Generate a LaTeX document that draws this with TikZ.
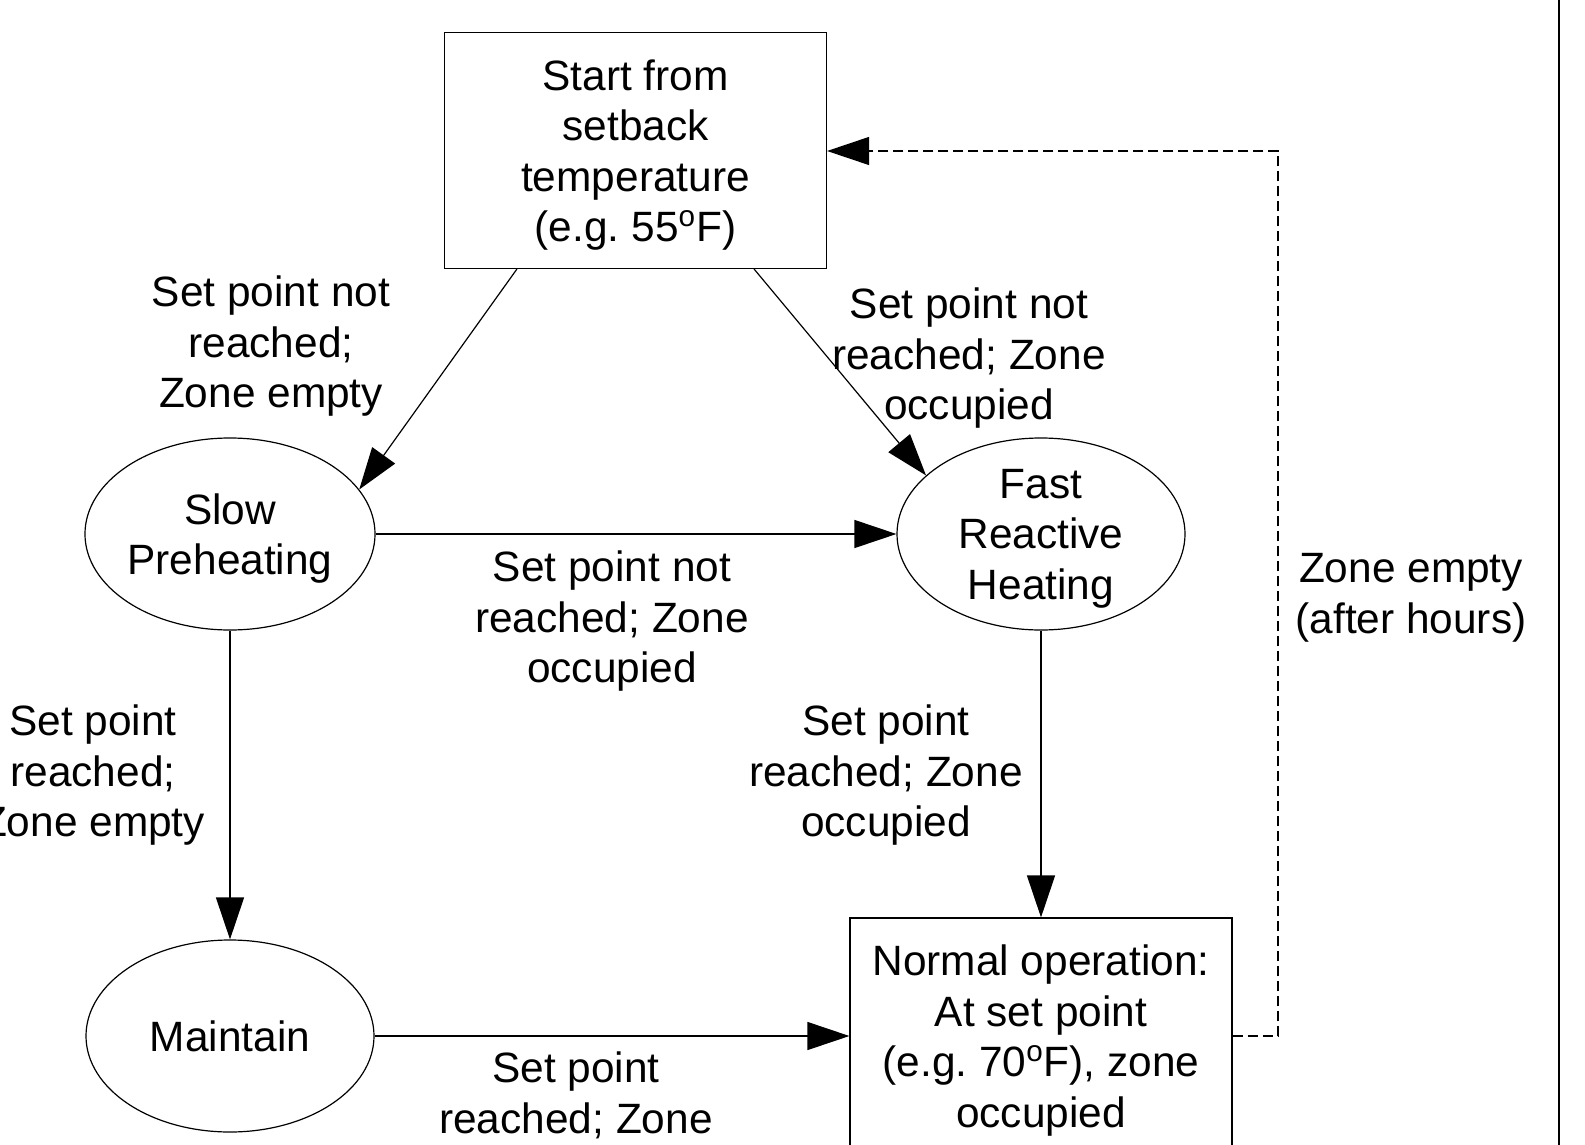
\documentclass[tikz,border=0pt]{standalone}
\usepackage{fontspec}
\setmainfont{Liberation Sans}
\usetikzlibrary{positioning,shapes.geometric,arrows.meta}

\begin{document}
\begin{tikzpicture}[x=0.5pt,y=-0.5pt,auto,on grid,>={Triangle[length=21pt,width=14pt]},line width=0.6pt,font=\fontsize{21.2pt}{25.25pt}\selectfont]
	\tikzstyle{state}=[ellipse,draw,minimum width=144pt,minimum height=96pt,align=center,inner sep=0pt,text depth=0pt]
	\tikzstyle{box}=[rectangle,draw,minimum width=191pt,minimum height=118pt,align=center,inner sep=0pt,text depth=0pt]
	\tikzstyle{cond}=[align=center,inner sep=0pt,text depth=0pt]
	\useasboundingbox (0,0) rectangle (1585,1145);
		\node[state] (slow) at (230,534) {Slow\\Preheating};
		\node[state] (fast) [right=405.5pt of slow] {Fast\\Reactive\\Heating};
		\node[state] (maintain) [below=251pt of slow] {Maintain};
		\node[box] (start) [above right=191.75pt and 202.75pt of slow] {Start from\\setback\\temperature\\(e.g.\ 55\textsuperscript{o}F)};
		\node[box] (normal) [below=251pt of fast] {Normal operation:\\At set point\\(e.g.\ 70\textsuperscript{o}F), zone\\occupied};
			\draw[->] (start.-135) -- (slow.19);
			\draw[->] (start.-45) -- (fast.153);
			\draw[->] (slow) -- (fast);
			\draw[->] (slow) -- (maintain);
			\draw[->] (fast) -- (normal);
			\draw[->] (maintain) -- (normal);
			\coordinate (turn) at (1278,151);
			\draw[->,dashed,dash pattern=on 5pt off 2.5pt] (normal.east) -| (turn) -- (start.east |- turn);
			\node[cond] (lbl1) at (271,342) {Set point not\\reached;\\Zone empty};
			\node[cond] (lbl2) at (969,354) {Set point not\\reached; Zone\\occupied};
			\node[cond] (lbl3) at (612,617) {Set point not\\reached; Zone\\occupied};
			\node[cond] (lbl4) at (93,771) {Set point\\reached;\\Zone empty};
			\node[cond] (lbl5) at (886,771) {Set point\\reached; Zone\\occupied};
			\node[cond] (lbl6) at (576,1092.5) {Set point\\reached; Zone};
			\node[cond] (lbl7) at (1411,593.5) {Zone empty\\(after hours)};
			\draw[line width=1.1pt] (1559,0) -- (1559,1145);
\end{tikzpicture}
\end{document}
